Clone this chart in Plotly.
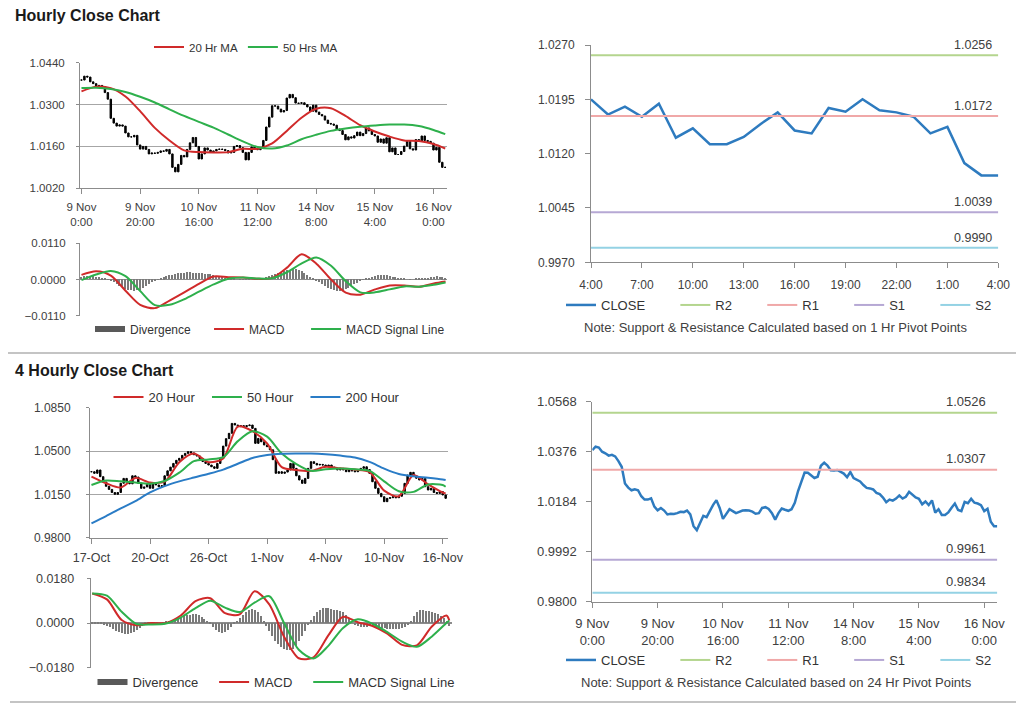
import plotly.graph_objects as go

# the page body has an 8px default margin, so the figure is sized to fit inside the window
OFF = 8
W, H = 1024 - OFF, 706 - OFF

# ---------------- data ----------------
hourly_ticks = ["9 Nov<br>0:00", "9 Nov<br>20:00", "10 Nov<br>16:00", "11 Nov<br>12:00",
                "14 Nov<br>8:00", "15 Nov<br>4:00", "16 Nov<br>0:00"]
hourly_close = [
    1.0382, 1.0395, 1.0392, 1.0376, 1.0370, 1.0361, 1.0364, 1.0358, 1.0340, 1.0318,
    1.0254, 1.0238, 1.0228, 1.0232, 1.0228, 1.0205, 1.0192, 1.0192, 1.0197, 1.0165,
    1.0151, 1.0160, 1.0150, 1.0135, 1.0138, 1.0137, 1.0140, 1.0145, 1.0144, 1.0150,
    1.0135, 1.0090, 1.0075, 1.0100, 1.0130, 1.0125, 1.0150, 1.0172, 1.0190, 1.0160,
    1.0118, 1.0135, 1.0155, 1.0148, 1.0140, 1.0145, 1.0150, 1.0151, 1.0150, 1.0146,
    1.0138, 1.0140, 1.0160, 1.0163, 1.0156, 1.0140, 1.0115, 1.0140, 1.0158, 1.0153,
    1.0149, 1.0155, 1.0180, 1.0225, 1.0258, 1.0296, 1.0295, 1.0285, 1.0275, 1.0280,
    1.0322, 1.0334, 1.0323, 1.0305, 1.0304, 1.0306, 1.0300, 1.0292, 1.0278, 1.0298,
    1.0275, 1.0267, 1.0262, 1.0248, 1.0237, 1.0235, 1.0231, 1.0218, 1.0213, 1.0200,
    1.0182, 1.0192, 1.0188, 1.0196, 1.0208, 1.0196, 1.0203, 1.0222, 1.0212, 1.0200,
    1.0195, 1.0174, 1.0185, 1.0171, 1.0189, 1.0142, 1.0155, 1.0133, 1.0133, 1.0143,
    1.0161, 1.0177, 1.0152, 1.0148, 1.0183, 1.0178, 1.0195, 1.0180, 1.0177, 1.0171,
    1.0148, 1.0157, 1.0107, 1.0090, 1.0090,
]
h_ma_idx = list(range(0, 121, 5)) + [124]
h_ma20 = [1.0344, 1.0360, 1.0355, 1.0327, 1.0278, 1.0222, 1.0180, 1.0147, 1.0141, 1.0140,
          1.0141, 1.0152, 1.0152, 1.0170, 1.0212, 1.0256, 1.0286, 1.0288, 1.0262, 1.0231,
          1.0210, 1.0193, 1.0180, 1.0178, 1.0168, 1.0153]
h_ma50 = [1.0355, 1.0356, 1.0352, 1.0342, 1.0326, 1.0307, 1.0284, 1.0262, 1.0242, 1.0223,
          1.0200, 1.0177, 1.0158, 1.0153, 1.0163, 1.0184, 1.0199, 1.0212, 1.0220, 1.0226,
          1.0230, 1.0233, 1.0233, 1.0228, 1.0215, 1.0201]
h_macd = [0.0014, 0.0025, 0.0012, -0.0034, -0.0077, -0.0087, -0.0064, -0.0039, -0.0013, 0.0009,
          0.0007, 0.0006, 0.0002, 0.0005, 0.0036, 0.0077, 0.0048, 0.0000, -0.0040, -0.0046,
          -0.0030, -0.0018, -0.0018, -0.0022, -0.0012, -0.0006]
h_signal = [-0.0002, 0.0015, 0.0026, 0.0010, -0.0035, -0.0078, -0.0077, -0.0060, -0.0037, -0.0015,
            0.0002, 0.0006, 0.0003, 0.0004, 0.0022, 0.0049, 0.0067, 0.0042, -0.0005, -0.0039,
            -0.0039, -0.0030, -0.0021, -0.0022, -0.0016, -0.0009]
h_div = [
    0.0008, 0.0009, 0.0010, 0.0010, 0.0009, 0.0008, 0.0006, 0.0004, 0.0002, -0.0001,
    -0.0005, -0.0010, -0.0015, -0.0020, -0.0025, -0.0029, -0.0032, -0.0034, -0.0035, -0.0034,
    -0.0032, -0.0028, -0.0022, -0.0016, -0.0010, -0.0005, -0.0001, 0.0003, 0.0006, 0.0009,
    0.0012, 0.0014, 0.0016, 0.0018, 0.0019, 0.0020, 0.0021, 0.0021, 0.0020, 0.0020,
    0.0019, 0.0018, 0.0017, 0.0016, 0.0015, 0.0013, 0.0011, 0.0009, 0.0007, 0.0005,
    0.0003, 0.0002, 0.0001, 0.0000, -0.0001, -0.0001, -0.0002, -0.0001, 0.0000, 0.0001,
    0.0001, 0.0002, 0.0004, 0.0006, 0.0009, 0.0012, 0.0015, 0.0018, 0.0021, 0.0024,
    0.0027, 0.0029, 0.0030, 0.0030, 0.0028, 0.0025, 0.0020, 0.0014, 0.0008, 0.0002,
    -0.0004, -0.0010, -0.0016, -0.0022, -0.0027, -0.0031, -0.0034, -0.0035, -0.0035, -0.0033,
    -0.0030, -0.0026, -0.0021, -0.0016, -0.0011, -0.0006, -0.0002, 0.0002, 0.0005, 0.0008,
    0.0010, 0.0012, 0.0013, 0.0013, 0.0012, 0.0010, 0.0008, 0.0006, 0.0004, 0.0002,
    0.0001, 0.0000, -0.0001, 0.0000, 0.0001, 0.0002, 0.0002, 0.0003, 0.0004, 0.0006,
    0.0008, 0.0009, 0.0008, 0.0006, 0.0004,
]

last24_ticks = ["4:00", "7:00", "10:00", "13:00", "16:00", "19:00", "22:00", "1:00", "4:00"]
pivot_1h = {"R2": 1.0256, "R1": 1.0172, "S1": 1.0039, "S2": 0.9990}
pivot_24h = {"R2": 1.0526, "R1": 1.0307, "S1": 0.9961, "S2": 0.9834}

four_ticks = ["17-Oct", "20-Oct", "26-Oct", "1-Nov", "4-Nov", "10-Nov", "16-Nov"]
four_close = [
    1.0333, 1.0320, 1.0347, 1.0293, 1.0250, 1.0215, 1.0190, 1.0165, 1.0150, 1.0165,
    1.0240, 1.0279, 1.0250, 1.0235, 1.0300, 1.0290, 1.0240, 1.0199, 1.0210, 1.0231,
    1.0199, 1.0239, 1.0226, 1.0212, 1.0220, 1.0300, 1.0340, 1.0370, 1.0400, 1.0425,
    1.0441, 1.0465, 1.0481, 1.0495, 1.0485, 1.0470, 1.0460, 1.0440, 1.0415, 1.0400,
    1.0387, 1.0373, 1.0360, 1.0400, 1.0441, 1.0540, 1.0600, 1.0643, 1.0723, 1.0710,
    1.0697, 1.0705, 1.0697, 1.0705, 1.0710, 1.0683, 1.0562, 1.0602, 1.0575, 1.0549,
    1.0535, 1.0510, 1.0430, 1.0320, 1.0333, 1.0320, 1.0330, 1.0347, 1.0400, 1.0360,
    1.0300, 1.0266, 1.0239, 1.0279, 1.0360, 1.0414, 1.0400, 1.0387, 1.0392, 1.0387,
    1.0373, 1.0387, 1.0370, 1.0360, 1.0347, 1.0360, 1.0347, 1.0333, 1.0347, 1.0340,
    1.0333, 1.0347, 1.0360, 1.0373, 1.0350, 1.0320, 1.0252, 1.0199, 1.0158, 1.0131,
    1.0091, 1.0118, 1.0123, 1.0131, 1.0123, 1.0135, 1.0158, 1.0239, 1.0306, 1.0328,
    1.0300, 1.0280, 1.0266, 1.0279, 1.0212, 1.0185, 1.0199, 1.0165, 1.0158, 1.0172,
    1.0145, 1.0118,
]
f_ma_idx = list(range(0, 121, 5)) + [121]
f_ma20 = [1.0293, 1.0240, 1.0205, 1.0283, 1.0245, 1.0252, 1.0410, 1.0480, 1.0410, 1.0440,
          1.0697, 1.0660, 1.0562, 1.0370, 1.0347, 1.0340, 1.0373, 1.0360, 1.0350, 1.0330,
          1.0180, 1.0135, 1.0306, 1.0230, 1.0165, 1.0158]
f_ma50 = [1.0226, 1.0262, 1.0255, 1.0245, 1.0236, 1.0258, 1.0325, 1.0418, 1.0432, 1.0450,
          1.0580, 1.0660, 1.0616, 1.0480, 1.0395, 1.0340, 1.0352, 1.0358, 1.0353, 1.0340,
          1.0255, 1.0175, 1.0170, 1.0230, 1.0225, 1.0212]
f_ma200 = [0.9916, 0.9975, 1.0037, 1.0095, 1.0166, 1.0217, 1.0255, 1.0286, 1.0316, 1.0350,
           1.0397, 1.0444, 1.0468, 1.0479, 1.0481, 1.0480, 1.0474, 1.0463, 1.0448, 1.0412,
           1.0358, 1.0315, 1.0296, 1.0284, 1.0270, 1.0266]
f_macd = [0.0119, 0.0095, 0.0012, -0.0009, 0.0000, 0.0000, 0.0030, 0.0088, 0.0100, 0.0040,
          0.0035, 0.0128, 0.0075, -0.0055, -0.0142, -0.0138, -0.0050, 0.0025, 0.0003, -0.0012,
          -0.0043, -0.0088, -0.0090, -0.0015, 0.0030, 0.0010]
f_signal = [0.0119, 0.0110, 0.0045, -0.0004, -0.0006, -0.0002, 0.0022, 0.0060, 0.0090, 0.0062,
            0.0044, 0.0082, 0.0108, 0.0000, -0.0108, -0.0143, -0.0092, -0.0020, 0.0015, -0.0003,
            -0.0037, -0.0075, -0.0096, -0.0055, 0.0000, 0.0010]
f_div = [
    -0.0002, -0.0003, -0.0004, -0.0005, -0.0008, -0.0012, -0.0018, -0.0025, -0.0032, -0.0038,
    -0.0042, -0.0045, -0.0045, -0.0042, -0.0036, -0.0028, -0.0020, -0.0012, -0.0006, -0.0002,
    0.0001, 0.0002, 0.0001, 0.0000, 0.0002, 0.0004, 0.0007, 0.0010, 0.0014, 0.0018,
    0.0022, 0.0026, 0.0030, 0.0033, 0.0035, 0.0034, 0.0030, 0.0024, 0.0015, 0.0005,
    -0.0006, -0.0017, -0.0028, -0.0036, -0.0040, -0.0038, -0.0030, -0.0018, -0.0005, 0.0008,
    0.0020, 0.0032, 0.0042, 0.0050, 0.0055, 0.0052, 0.0042, 0.0026, 0.0006, -0.0015,
    -0.0035, -0.0055, -0.0072, -0.0086, -0.0097, -0.0105, -0.0110, -0.0110, -0.0104, -0.0092,
    -0.0075, -0.0055, -0.0032, -0.0010, 0.0010, 0.0028, 0.0042, 0.0052, 0.0058, 0.0060,
    0.0058, 0.0055, 0.0052, 0.0050, 0.0048, 0.0042, 0.0030, 0.0015, 0.0000, -0.0010,
    -0.0015, -0.0018, -0.0018, -0.0016, -0.0014, -0.0015, -0.0018, -0.0020, -0.0022, -0.0023,
    -0.0024, -0.0025, -0.0026, -0.0026, -0.0025, -0.0022, -0.0018, -0.0010, 0.0005, 0.0025,
    0.0042, 0.0050, 0.0050, 0.0048, 0.0046, 0.0044, 0.0040, 0.0035, 0.0028, 0.0018,
    0.0005, -0.0015,
]

# ---------------- styling ----------------
FONT = "Liberation Sans, Arial, sans-serif"
RED, GREEN, BLUE = "#d02a2a", "#2eb04c", "#2a7cc6"
CLOSE_BLUE = "#2e7bbf"
LEVEL_COL = {"R2": "#b4d58e", "R1": "#f0a8a8", "S1": "#b6a8d4", "S2": "#94d2e4"}
GRID = "#a6a6a6"
AX = "#8c8c8c"
TXT = "#404040"
NB = "\u00a0"


def px(x):
    return (x - OFF) / W


def py(y):
    return 1 - (y - OFF) / H


def xd(l, r):
    return [px(l), px(r)]


def yd(top, bottom):
    return [py(bottom), py(top)]


def f(size):
    return dict(family=FONT, size=size, color=TXT)


def candles(close, xa, ya):
    xs = list(range(len(close)))
    op = [close[0]] + close[:-1]
    return go.Candlestick(
        x=xs, open=op, close=close,
        high=[max(o, c) for o, c in zip(op, close)],
        low=[min(o, c) for o, c in zip(op, close)],
        increasing=dict(line=dict(color="black", width=1), fillcolor="black"),
        decreasing=dict(line=dict(color="black", width=1), fillcolor="black"),
        whiskerwidth=0, showlegend=False, hoverinfo="skip", xaxis=xa, yaxis=ya)


def sline(x, y, name, color, xa, ya, lg, width=2):
    return go.Scatter(x=x, y=y, mode="lines", name=name,
                      line=dict(color=color, width=width, shape="spline", smoothing=0.8),
                      xaxis=xa, yaxis=ya, legend=lg)


fig = go.Figure()

# ---- hourly candles ----
h_x = list(range(len(hourly_close)))
fig.add_trace(candles(hourly_close, "x", "y"))
fig.add_trace(sline(h_ma_idx, h_ma20, "20 Hr MA", RED, "x", "y", "legend"))
fig.add_trace(sline(h_ma_idx, h_ma50, "50 Hrs MA", GREEN, "x", "y", "legend"))

# ---- hourly MACD ----
fig.add_trace(go.Scatter(x=[None], y=[None], mode="lines", name="Divergence" + NB * 4,
                         line=dict(color="#595959", width=6), xaxis="x2", yaxis="y2", legend="legend2"))
fig.add_trace(go.Bar(x=h_x, y=h_div, width=0.45, marker=dict(color="#7a7a7a", line=dict(width=0)),
                     showlegend=False, xaxis="x2", yaxis="y2"))
fig.add_trace(sline(h_ma_idx, h_macd, "MACD" + NB * 5, RED, "x2", "y2", "legend2"))
fig.add_trace(sline(h_ma_idx, h_signal, "MACD Signal Line", GREEN, "x2", "y2", "legend2"))

# ---- last 24 hours with 1h pivots ----
last24 = hourly_close[-25:]
l_x = list(range(len(last24)))
fig.add_trace(go.Scatter(x=l_x, y=last24, mode="lines", name="CLOSE" + NB * 7,
                         line=dict(color=CLOSE_BLUE, width=2.5), xaxis="x3", yaxis="y3", legend="legend3"))
keys = list(pivot_1h)
for i, k in enumerate(keys):
    v = pivot_1h[k]
    fig.add_trace(go.Scatter(x=[l_x[0], l_x[-1]], y=[v, v], mode="lines",
                             name=k + (NB * 7 if i < len(keys) - 1 else ""),
                             line=dict(color=LEVEL_COL[k], width=2), xaxis="x3", yaxis="y3",
                             legend="legend3"))

# ---- 4 hourly candles ----
f_x = list(range(len(four_close)))
fig.add_trace(candles(four_close, "x4", "y4"))
fig.add_trace(sline(f_ma_idx, f_ma20, "20 Hour" + NB * 2, RED, "x4", "y4", "legend4"))
fig.add_trace(sline(f_ma_idx, f_ma50, "50 Hour" + NB * 2, GREEN, "x4", "y4", "legend4"))
fig.add_trace(sline(f_ma_idx, f_ma200, "200 Hour", BLUE, "x4", "y4", "legend4"))

# ---- 4 hourly MACD ----
fig.add_trace(go.Scatter(x=[None], y=[None], mode="lines", name="Divergence" + NB * 3,
                         line=dict(color="#595959", width=6), xaxis="x5", yaxis="y5", legend="legend5"))
fig.add_trace(go.Bar(x=f_x, y=f_div, width=0.45, marker=dict(color="#7a7a7a", line=dict(width=0)),
                     showlegend=False, xaxis="x5", yaxis="y5"))
fig.add_trace(sline(f_ma_idx, f_macd, "MACD" + NB * 3, RED, "x5", "y5", "legend5"))
fig.add_trace(sline(f_ma_idx, f_signal, "MACD Signal Line", GREEN, "x5", "y5", "legend5"))

# ---- hourly close with 24h pivots ----
fig.add_trace(go.Scatter(x=h_x, y=hourly_close, mode="lines", name="CLOSE" + NB * 7,
                         line=dict(color=CLOSE_BLUE, width=2.5), xaxis="x6", yaxis="y6", legend="legend6"))
keys = list(pivot_24h)
for i, k in enumerate(keys):
    v = pivot_24h[k]
    fig.add_trace(go.Scatter(x=[h_x[0], h_x[-1]], y=[v, v], mode="lines",
                             name=k + (NB * 7 if i < len(keys) - 1 else ""),
                             line=dict(color=LEVEL_COL[k], width=2), xaxis="x6", yaxis="y6",
                             legend="legend6"))

# ---------------- layout ----------------
layout = dict(
    width=W, height=H, autosize=False,
    margin=dict(l=0, r=0, t=0, b=0, pad=0, autoexpand=False),
    paper_bgcolor="white", plot_bgcolor="white", showlegend=True, hovermode=False,
    font=dict(family=FONT, color=TXT), bargap=0,
)

tick_idx = list(range(0, 121, 20))
base_x = dict(showline=True, linecolor=AX, ticks="outside", ticklen=5, tickcolor=AX,
              showgrid=False, zeroline=False, automargin=False)
base_y = dict(showline=True, linecolor=AX, ticks="outside", tickcolor=AX, zeroline=False,
              automargin=False, tickformat=".4f")
hidden_x = dict(showticklabels=False, showgrid=False, zeroline=False, showline=False, ticks="",
                automargin=False)

layout["xaxis"] = dict(base_x, domain=xd(80, 446.7), range=[-0.5, 124.5], anchor="y",
                       tickvals=tick_idx, ticktext=hourly_ticks, tickfont=f(11.5),
                       rangeslider=dict(visible=False), ticklabelstandoff=3)
layout["yaxis"] = dict(base_y, domain=yd(62.7, 188.3), range=[1.0020, 1.0440], anchor="x",
                       tickvals=[1.0020, 1.0160, 1.0300, 1.0440], tickfont=f(11.5), ticklen=3,
                       showgrid=True, gridcolor=GRID, ticklabelstandoff=9)
layout["xaxis2"] = dict(hidden_x, domain=xd(80, 447), range=[-0.5, 124.5], anchor="y2")
layout["yaxis2"] = dict(base_y, domain=yd(243.3, 315.7), range=[-0.011, 0.011], anchor="x2",
                        tickvals=[-0.011, 0, 0.011], tickfont=f(11.5), ticklen=3,
                        showgrid=True, gridcolor=GRID, zeroline=True, zerolinecolor=AX, zerolinewidth=1,
                        ticklabelstandoff=8)
layout["xaxis3"] = dict(base_x, domain=xd(591, 998.3), range=[0, 24], anchor="y3",
                        tickvals=list(range(0, 25, 3)), ticktext=last24_ticks, tickfont=f(12),
                        ticklabelstandoff=6)
layout["yaxis3"] = dict(base_y, domain=yd(45, 262.3), range=[0.9970, 1.0270], anchor="x3",
                        tickvals=[0.9970, 1.0045, 1.0120, 1.0195, 1.0270], tickfont=f(12), ticklen=5,
                        showgrid=False, ticklabelstandoff=8)
layout["xaxis4"] = dict(base_x, domain=xd(90, 448), range=[-0.5, 121.8], anchor="y4",
                        tickvals=tick_idx, ticktext=four_ticks, tickfont=f(12.5),
                        rangeslider=dict(visible=False), ticklabelstandoff=3)
layout["yaxis4"] = dict(base_y, domain=yd(407.7, 537.7), range=[0.9800, 1.0850], anchor="x4",
                        tickvals=[0.9800, 1.0150, 1.0500, 1.0850], tickfont=f(12), ticklen=3,
                        showgrid=True, gridcolor=GRID, ticklabelstandoff=13)
layout["xaxis5"] = dict(hidden_x, domain=xd(90.7, 451.7), range=[-0.5, 121.8], anchor="y5")
layout["yaxis5"] = dict(base_y, domain=yd(578.3, 667.7), range=[-0.018, 0.018], anchor="x5",
                        tickvals=[-0.018, 0, 0.018], tickfont=f(12.5), ticklen=3,
                        showgrid=True, gridcolor=GRID, zeroline=True, zerolinecolor=AX,
                        ticklabelstandoff=10)
layout["xaxis6"] = dict(base_x, domain=xd(592.3, 997.3), range=[0, 124], anchor="y6",
                        tickvals=tick_idx, ticktext=hourly_ticks, tickfont=f(13),
                        ticklabelstandoff=5)
layout["yaxis6"] = dict(base_y, domain=yd(401.7, 601.7), range=[0.9800, 1.0568], anchor="x6",
                        tickvals=[0.9800, 0.9992, 1.0184, 1.0376, 1.0568], tickfont=f(13), ticklen=5,
                        showgrid=False, ticklabelstandoff=7)


def leg(cx, cy, fsize):
    return dict(x=px(cx), y=py(cy), xanchor="center", yanchor="middle", orientation="h",
                bgcolor="rgba(0,0,0,0)", font=dict(family=FONT, size=fsize, color="#333333"),
                itemwidth=30, tracegroupgap=0, itemclick=False, itemdoubleclick=False)


layout["legend"] = leg(246, 47, 11.5)
layout["legend2"] = leg(270, 329, 12)
layout["legend3"] = leg(779, 305, 13)
layout["legend4"] = leg(257, 397, 13)
layout["legend5"] = leg(276, 682, 13)
layout["legend6"] = leg(779, 660, 13)

ann = [
    dict(text="<b>Hourly Close Chart</b>", x=px(13), y=py(16), xref="paper", yref="paper",
         xanchor="left", yanchor="middle", showarrow=False, font=dict(family=FONT, size=16, color="#1a1a1a")),
    dict(text="<b>4 Hourly Close Chart</b>", x=px(13), y=py(370), xref="paper", yref="paper",
         xanchor="left", yanchor="middle", showarrow=False, font=dict(family=FONT, size=16, color="#1a1a1a")),
    dict(text="Note: Support & Resistance Calculated based on 1 Hr Pivot Points", x=px(775), y=py(327),
         xref="paper", yref="paper", xanchor="center", yanchor="middle", showarrow=False, font=f(13)),
    dict(text="Note: Support & Resistance Calculated based on 24 Hr Pivot Points", x=px(776), y=py(682),
         xref="paper", yref="paper", xanchor="center", yanchor="middle", showarrow=False, font=f(13)),
]
for k, v in pivot_1h.items():
    ann.append(dict(text=f"{v:.4f}", x=l_x[-1], y=v, xref="x3", yref="y3", xanchor="right",
                    yanchor="bottom", xshift=-4, yshift=1, showarrow=False, font=f(12.5)))
for k, v in pivot_24h.items():
    ann.append(dict(text=f"{v:.4f}", x=h_x[-1], y=v, xref="x6", yref="y6", xanchor="right",
                    yanchor="bottom", xshift=-9, yshift=2, showarrow=False, font=f(13)))
layout["annotations"] = ann

layout["shapes"] = [
    dict(type="line", xref="paper", yref="paper", x0=0, x1=1, y0=py(353), y1=py(353),
         line=dict(color="#b0b0b0", width=1.5)),
    dict(type="line", xref="paper", yref="paper", x0=px(10), x1=1, y0=py(702), y1=py(702),
         line=dict(color="#b0b0b0", width=1.5)),
]

fig.update_layout(**layout)
fig.write_html("out.html")
